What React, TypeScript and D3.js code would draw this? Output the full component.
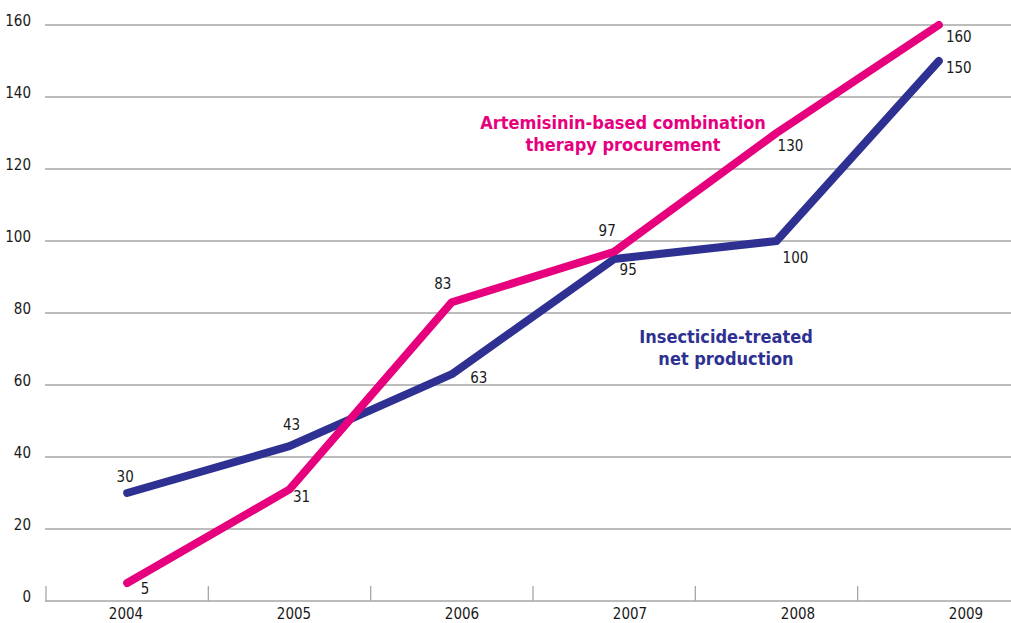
import React, { useEffect, useRef } from 'react';
import * as d3 from 'd3';

const years = ['2004', '2005', '2006', '2007', '2008', '2009'];
const actValues = [5, 31, 83, 97, 130, 160];
const itnValues = [30, 43, 63, 95, 100, 150];
const yTicks = [0, 20, 40, 60, 80, 100, 120, 140, 160];

// label offsets (dx, dy) per point, relative to the data point
const actLabelOffsets: [number, number][] = [[18, 6], [12, 8], [-9, -18], [-7, -21], [14, 13], [20, 12]];
const itnLabelOffsets: [number, number][] = [[-2, -16], [2, -21], [27, 4], [14, 11], [19, 17], [20, 7]];

const PINK = '#e6007e';
const NAVY = '#2e3192';
const GRID = '#a6a6a6';
const FONT = '"Liberation Sans Narrow", "DejaVu Sans Condensed", "Liberation Sans", sans-serif';

export default function App() {
  const svgRef = useRef<SVGSVGElement>(null);

  useEffect(() => {
    if (!svgRef.current) return;
    const width = 1011;
    const height = 623;

    const svg = d3.select(svgRef.current)
      .attr('width', width)
      .attr('height', height)
      .attr('viewBox', `0 0 ${width} ${height}`);
    svg.selectAll('*').remove();

    const x = d3.scaleBand<string>().domain(years).range([46, 1020]);
    const xLabel = d3.scalePoint<string>().domain(years).range([126, 966]);
    const y = d3.scaleLinear().domain([0, 160]).range([601, 25]);

    // Gridlines
    svg.append('g')
      .selectAll('line')
      .data(yTicks.filter(t => t > 0))
      .enter()
      .append('line')
      .attr('x1', 45)
      .attr('x2', width)
      .attr('y1', d => y(d))
      .attr('y2', d => y(d))
      .attr('stroke', GRID)
      .attr('stroke-width', 1.3);

    // Y labels
    svg.append('g')
      .selectAll('text')
      .data(yTicks)
      .enter()
      .append('text')
      .attr('x', 31)
      .attr('y', d => y(d) + 1)
      .attr('text-anchor', 'end')
      .attr('font-family', FONT)
      .attr('font-size', 15)
      .attr('fill', '#1a1a1a')
      .text(d => String(d));

    // X axis baseline + ticks
    svg.append('line')
      .attr('x1', 45)
      .attr('x2', width)
      .attr('y1', y(0))
      .attr('y2', y(0))
      .attr('stroke', GRID)
      .attr('stroke-width', 1.5);

    svg.append('g')
      .selectAll('line')
      .data(years)
      .enter()
      .append('line')
      .attr('x1', d => x(d)!)
      .attr('x2', d => x(d)!)
      .attr('y1', y(0) - 15)
      .attr('y2', y(0))
      .attr('stroke', GRID)
      .attr('stroke-width', 1.3);

    svg.append('g')
      .selectAll('text')
      .data(years)
      .enter()
      .append('text')
      .attr('x', d => xLabel(d)!)
      .attr('y', 619)
      .attr('text-anchor', 'middle')
      .attr('font-family', FONT)
      .attr('font-size', 15)
      .attr('fill', '#1a1a1a')
      .text(d => d);

    const cx = (d: string) => x(d)! + x.bandwidth() / 2;

    const line = d3.line<[string, number]>()
      .x(d => cx(d[0]))
      .y(d => y(d[1]));

    const series = [
      { values: itnValues, color: NAVY, offsets: itnLabelOffsets },
      { values: actValues, color: PINK, offsets: actLabelOffsets },
    ];

    series.forEach(s => {
      const pts = years.map((yr, i) => [yr, s.values[i]] as [string, number]);
      svg.append('path')
        .datum(pts)
        .attr('d', line)
        .attr('fill', 'none')
        .attr('stroke', s.color)
        .attr('stroke-width', 8)
        .attr('stroke-linecap', 'round')
        .attr('stroke-linejoin', 'round');
    });

    series.forEach(s => {
      svg.append('g')
        .selectAll('text')
        .data(years.map((yr, i) => ({ yr, v: s.values[i], o: s.offsets[i] })))
        .enter()
        .append('text')
        .attr('x', d => cx(d.yr) + d.o[0])
        .attr('y', d => y(d.v) + d.o[1] + 5)
        .attr('text-anchor', 'middle')
        .attr('font-family', FONT)
        .attr('font-size', 15)
        .attr('fill', '#1a1a1a')
        .text(d => String(d.v));
    });

    // Series titles
    const titles = [
      { lines: ['Artemisinin-based combination', 'therapy procurement'], color: PINK, x: 623, y: 129 },
      { lines: ['Insecticide-treated', 'net production'], color: NAVY, x: 726, y: 343 },
    ];
    titles.forEach(t => {
      const txt = svg.append('text')
        .attr('text-anchor', 'middle')
        .attr('font-family', FONT)
        .attr('font-weight', 'bold')
        .attr('font-size', 18)
        .attr('fill', t.color);
      t.lines.forEach((l, i) => {
        txt.append('tspan')
          .attr('x', t.x)
          .attr('y', t.y + i * 22)
          .text(l);
      });
    });
  }, []);

  return (
    <div style={{ position: 'absolute', left: 0, top: 0, background: '#fff' }}>
      <svg ref={svgRef} style={{ display: 'block' }}></svg>
    </div>
  );
}
